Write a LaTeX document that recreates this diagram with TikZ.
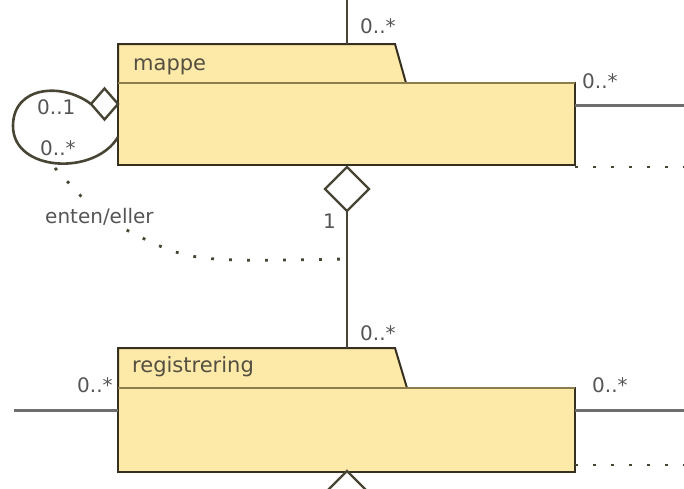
\documentclass[tikz,border=0pt]{standalone}
\usepackage{fontspec}
\setmainfont{DejaVu Sans}
\usetikzlibrary{shapes.geometric,calc}

\definecolor{klassegul}{HTML}{FDE9A8}
\definecolor{kant}{HTML}{35301F}
\definecolor{skille}{HTML}{8D7C4C}
\definecolor{linje}{HTML}{6E6E6E}
\definecolor{tekst}{HTML}{555555}

\begin{document}
\begin{tikzpicture}
[x=1pt,y=-1pt]
\tikzset{klasse/.style={rectangle,draw=kant,fill=klassegul,line width=2.2pt,inner sep=0pt,outer sep=0pt,anchor=north west,minimum width=457pt}}
\tikzset{fane/.style={draw=kant,fill=klassegul,line width=2pt,line join=miter}}
\tikzset{klassenavn/.style={anchor=base west,inner sep=0pt,text=kant!85,font=\fontsize{21}{24}\selectfont}}
\tikzset{mult/.style={anchor=base west,inner sep=0pt,text=tekst,font=\fontsize{20}{24}\selectfont}}
\tikzset{assosiasjon/.style={draw=linje,line width=3pt}}
\tikzset{strek/.style={draw=kant!90,line width=2.6pt}}
\tikzset{prikket/.style={draw=kant!90,line width=2.8pt,dash pattern=on 2.8pt off 15.2pt}}
\tikzset{aggregering/.style={diamond,draw=kant!90,fill=white,line width=2.4pt,inner sep=0pt,outer sep=0pt,shape aspect=1}}
\useasboundingbox (0,0) rectangle (684,488);
\clip (0,0) rectangle (684,488);

% mappe
\draw[fane] (118,83) -- (118,44) -- (395,44) -- (406,83) -- cycle;
\node[klasse,minimum height=82pt] (mappe) at (118,83) {};
\draw[skille,line width=2.2pt] (mappe.north west) -- (mappe.north east);
\node[klassenavn] (mappeNavn) at (133,70) {mappe};
\coordinate (mappeFane) at (347,44);

% registrering
\draw[fane] (118,388) -- (118,348) -- (395,348) -- (407,388) -- cycle;
\node[klasse,minimum height=84pt] (registrering) at (118,388) {};
\draw[skille,line width=2.2pt] (registrering.north west) -- (registrering.north east);
\node[klassenavn] (regNavn) at (132,372) {registrering};
\coordinate (regFane) at (347,348);

% assosiasjoner
\coordinate (toppInn) at (347,0);
\draw[strek] (toppInn) -- (mappeFane);
\node[mult] (mTopp) at (360,33) {0..*};

\coordinate (hoyreA) at (684,105);
\coordinate (hoyreB) at (684,167);
\draw[assosiasjon] (mappe.east |- hoyreA) -- (hoyreA);
\draw[prikket] (mappe.south east |- hoyreB) -- (hoyreB);
\node[mult] (mHoyre) at (582,88) {0..*};

\coordinate (hoyreC) at (684,410);
\coordinate (hoyreD) at (684,465);
\coordinate (venstreC) at (14,410);
\draw[assosiasjon] (registrering.east |- hoyreC) -- (hoyreC);
\draw[prikket] (registrering.south east |- hoyreD) -- (hoyreD);
\draw[assosiasjon] (venstreC) -- (registrering.west |- venstreC);
\node[mult] (rHoyre) at (592,392) {0..*};
\node[mult] (rVenstre) at (77,392) {0..*};

% aggregering mappe - registrering
\node[aggregering,minimum width=44pt,minimum height=44pt,anchor=north] (mappeAgg) at (347,167) {};
\draw[strek] (mappeAgg.south) -- (regFane);
\node[mult] (mEn) at (323,228) {1};
\node[mult] (rTopp) at (360,340) {0..*};
\node[aggregering,minimum width=44pt,minimum height=44pt,anchor=north] (regAgg) at (347,471) {};

% mappe - mappe
\node[aggregering,minimum width=27pt,minimum height=31pt,anchor=east] (selvAgg) at (118,104) {};
\coordinate (selvInn) at (118,137);
\draw[strek] (selvAgg.west) .. controls (62,82) and (13,86) .. (13,126)
  .. controls (13,172) and (95,176) .. (selvInn);
\node[mult] (sEn) at (37,114) {0..1};
\node[mult] (sMange) at (40,155) {0..*};

% enten/eller
\coordinate (selvUt) at (55,168);
\coordinate (begrensning) at ($(mappeAgg.south)!0.35!(regFane)$);
\node[mult,inner sep=5pt] (entenEller) at (40,223) {enten/eller};
\draw[prikket] (selvUt) -- (entenEller);
\draw[prikket] (entenEller) .. controls (190,262) .. (begrensning);
\end{tikzpicture}
\end{document}
